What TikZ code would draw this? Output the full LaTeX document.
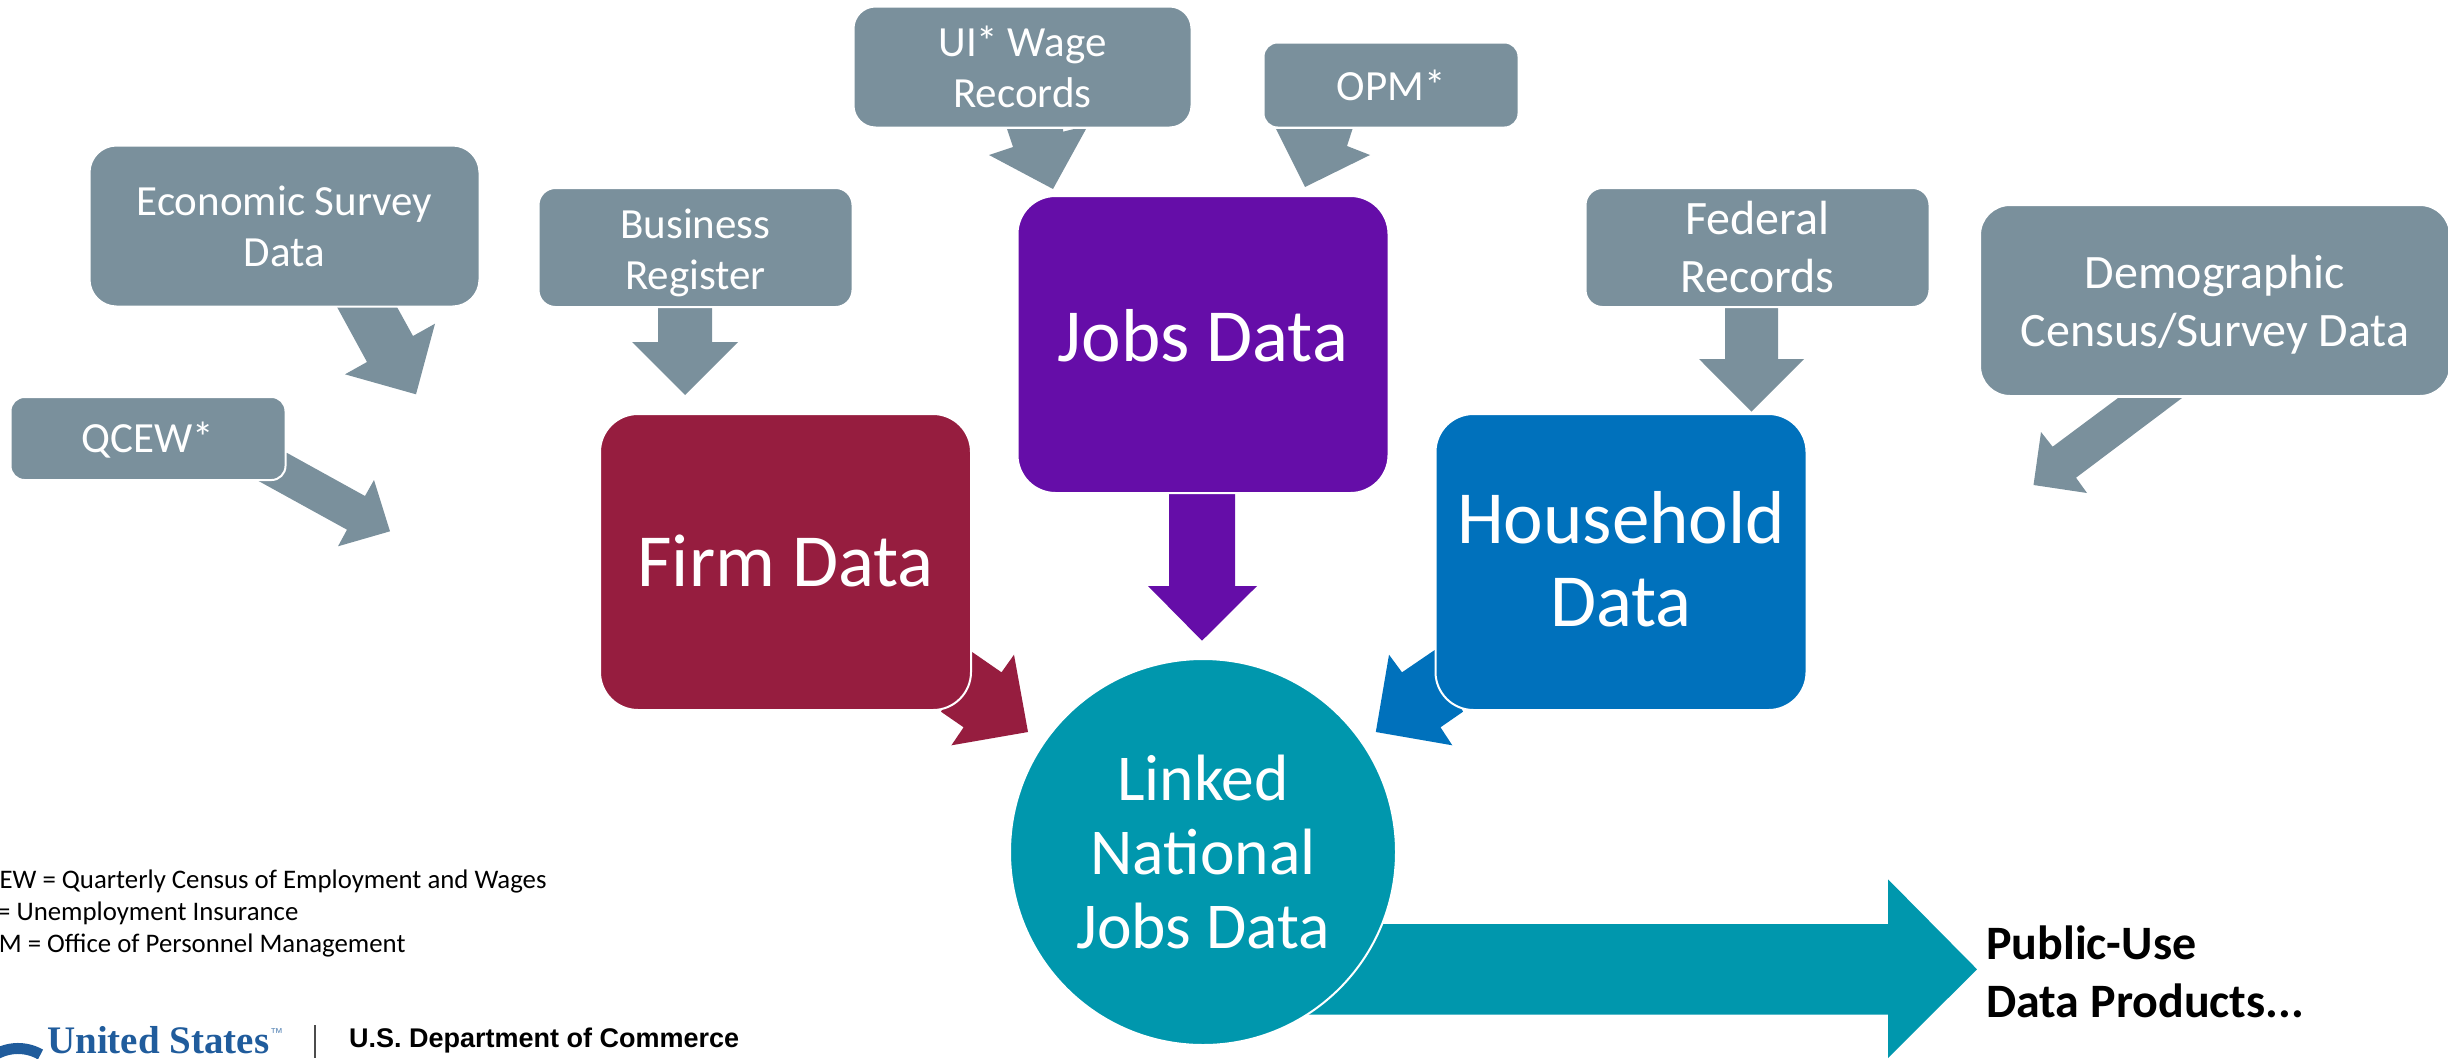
\documentclass[tikz,border=0pt]{standalone}
\usepackage{fontspec}
\setmainfont{Carlito}
\newfontfamily\serifb{Liberation Serif}
\newfontfamily\sansb{Liberation Sans}
\definecolor{cgray}{HTML}{7A909C}
\definecolor{cmaroon}{HTML}{961D3F}
\definecolor{cpurple}{HTML}{650DA8}
\definecolor{cblue}{HTML}{0071BC}
\definecolor{cteal}{HTML}{0097AD}
\definecolor{clogo}{HTML}{205C9C}
\tikzset{
  boxbase/.style={draw=white,line width=2pt,rounded corners=#1,text=white,align=center,inner sep=0pt,outer sep=0pt},
  srcbox/.style={boxbase=#1,fill=cgray},
  blockarrow/.style={fill=#1,draw=none},
  t40/.style={font=\fontsize{43}{51}\selectfont},
  t46/.style={font=\fontsize{48}{58}\selectfont},
  t75/.style={font=\fontsize{75}{83}\selectfont},
  t62/.style={font=\fontsize{65.5}{74}\selectfont},
  noteline/.style={anchor=base west,inner sep=0pt,font=\fontsize{26.8}{32}\selectfont},
  pubtext/.style={anchor=west,align=left,inner sep=0pt,font=\fontsize{48}{58}\selectfont\bfseries},
}
\begin{document}
\begin{tikzpicture}[x=1pt,y=-1pt]
\useasboundingbox (0,0) rectangle (2448,1058);
\clip (0,0) rectangle (2448,1058);
% block arrows
\fill[blockarrow=cgray] (337,307) -- (397,307) -- (413,336) -- (435,323.7) -- (416,394.3) -- (345,374.3) -- (367,362) -- cycle;
\fill[blockarrow=cgray] (286.6,452.7) -- (365,496) -- (374,480) -- (390,531.3) -- (338,546.3) -- (347,529.7) -- (258,480.7) -- cycle;
\fill[blockarrow=cgray] (658,308) -- (712,308) -- (712,342) -- (738,342) -- (685,395) -- (632,342) -- (658,342) -- cycle;
\fill[blockarrow=cgray] (1007,129) -- (1063,129) -- (1063,131.7) -- (1074,129) -- (1086,129) -- (1053,189) -- (989,155) -- (1013,147) -- cycle;
\fill[blockarrow=cgray] (1276,129) -- (1352.5,129) -- (1347,146) -- (1370,155) -- (1305,187) -- cycle;
\fill[blockarrow=cgray] (1725,308) -- (1778,308) -- (1778,359) -- (1804,359) -- (1751.5,411.7) -- (1699,359) -- (1725,359) -- cycle;
\fill[blockarrow=cgray] (2118,398) -- (2182,398) -- (2076,477.7) -- (2087,493) -- (2033.5,485) -- (2041,432) -- (2052.6,446.7) -- cycle;
\fill[blockarrow=cmaroon] (971.7,651.7) -- (1001.5,672.3) -- (1014,654.7) -- (1028,732) -- (951.4,745.3) -- (963.6,727.3) -- (941,711.7) -- cycle;
\fill[blockarrow=cblue] (1434.7,650) -- (1402,672.3) -- (1389,654.7) -- (1375.8,732) -- (1452.3,745.3) -- (1440.5,727.3) -- (1463,711.7) -- cycle;
\fill[blockarrow=cpurple] (1169,494) -- (1235,494) -- (1235,586) -- (1257,586) -- (1202,640.7) -- (1148,586) -- (1169,586) -- cycle;
\fill[blockarrow=cteal] (1250,924) -- (1888,924) -- (1888,879.3) -- (1977,969.3) -- (1888,1058) -- (1888,1014.7) -- (1250,1014.7) -- cycle;
% boxes
\node[srcbox=27pt,t40,minimum width=390pt,minimum height=161pt] (econ) at (284.5,226) {Economic Survey\\Data};
\node[srcbox=14pt,t40,minimum width=275pt,minimum height=83pt] (qcew) at (148,438.5) {\rule{0pt}{34pt}QCEW*};
\node[srcbox=17pt,t40,minimum width=314pt,minimum height=119pt] (bus) at (695.5,247.5) {\rule{0pt}{40pt}Business\\Register};
\node[srcbox=22pt,t40,minimum width=338pt,minimum height=121pt] (ui) at (1022.5,67) {UI* Wage\\Records};
\node[srcbox=14pt,t40,minimum width=255pt,minimum height=85pt] (opm) at (1391,85) {OPM*};
\node[srcbox=17pt,t46,minimum width=344pt,minimum height=119pt] (fed) at (1757.5,247.5) {Federal\\Records};
\node[srcbox=30pt,t46,minimum width=470pt,minimum height=191pt] (demo) at (2215,300.5) {\rule{0pt}{41pt}Demographic\\Census/Survey Data};
\node[boxbase=38pt,fill=cmaroon,t75,minimum width=371pt,minimum height=296pt] (firm) at (785.5,562) {Firm Data\rule[-3pt]{0pt}{0pt}};
\node[boxbase=38pt,fill=cpurple,t75,minimum width=371pt,minimum height=297pt] (jobs) at (1203,344.5) {Jobs Data\rule[-17.5pt]{0pt}{0pt}};
\node[boxbase=38pt,fill=cblue,t75,minimum width=371pt,minimum height=296pt] (house) at (1621,562) {Household\\Data\rule[-6pt]{0pt}{0pt}};
\node[boxbase=38pt,circle,fill=cteal,t62,minimum size=386pt] (linked) at (1203,852) {Linked\\National\\Jobs Data};
% texts
\node[pubtext] (pub) at (1986,972) {Public-Use\\Data Products...};
\node[noteline] (n1) at (-33,888) {QCEW = Quarterly Census of Employment and Wages};
\node[noteline] (n2) at (-33,920) {UI = Unemployment Insurance};
\node[noteline] (n3) at (-33,952) {OPM = Office of Personnel Management};
% logo
\draw[clogo,line width=11pt] (40.5,1054.5) arc[start angle=60,end angle=140,radius=45pt];
\node[anchor=base west,inner sep=0pt,text=clogo,font=\serifb\bfseries\fontsize{39}{40}\selectfont] (us) at (47,1053) {United States};
\node[anchor=base west,inner sep=0pt,text=clogo!70,font=\sansb\fontsize{13}{13}\selectfont] (tm) at (270,1037) {™};
\node[anchor=base west,inner sep=0pt,font=\sansb\bfseries\fontsize{27}{27}\selectfont] (doc) at (349,1047) {U.S. Department of Commerce};
\coordinate (bartop) at (315,1025);
\coordinate (barbot) at (315,1058);
\draw[black!70,line width=1.5pt] (bartop) -- (barbot);
\end{tikzpicture}
\end{document}
